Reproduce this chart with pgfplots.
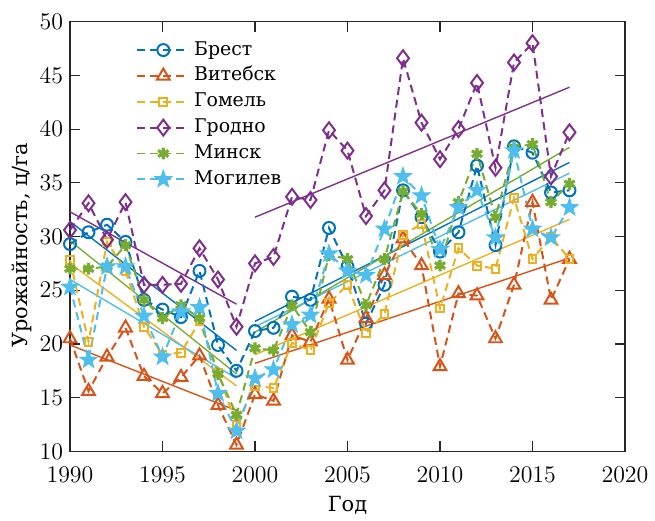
\documentclass[border=0pt]{standalone}
\usepackage{fontspec}
\setmainfont{DejaVu Serif}
\usepackage{pgfplots}
\pgfplotsset{compat=1.18}
\usetikzlibrary{plotmarks}
\definecolor{cB}{rgb}{0,0.447,0.741}
\definecolor{cV}{rgb}{0.850,0.325,0.098}
\definecolor{cG}{rgb}{0.929,0.694,0.125}
\definecolor{cGr}{rgb}{0.494,0.184,0.556}
\definecolor{cM}{rgb}{0.466,0.674,0.188}
\definecolor{cMo}{rgb}{0.301,0.745,0.933}
\pgfdeclareplotmark{pstar}{%
  \pgfpathmoveto{\pgfpointpolar{90}{\pgfplotmarksize}}%
  \pgfpathlineto{\pgfpointpolar{126}{0.4\pgfplotmarksize}}%
  \pgfpathlineto{\pgfpointpolar{162}{\pgfplotmarksize}}%
  \pgfpathlineto{\pgfpointpolar{198}{0.4\pgfplotmarksize}}%
  \pgfpathlineto{\pgfpointpolar{234}{\pgfplotmarksize}}%
  \pgfpathlineto{\pgfpointpolar{270}{0.4\pgfplotmarksize}}%
  \pgfpathlineto{\pgfpointpolar{306}{\pgfplotmarksize}}%
  \pgfpathlineto{\pgfpointpolar{342}{0.4\pgfplotmarksize}}%
  \pgfpathlineto{\pgfpointpolar{18}{\pgfplotmarksize}}%
  \pgfpathlineto{\pgfpointpolar{54}{0.4\pgfplotmarksize}}%
  \pgfpathclose
  \pgfusepathqfillstroke}
\begin{document}
\begin{tikzpicture}
\begin{axis}[name=ax, scale only axis, width=279pt, height=216pt,
  xmin=1990, xmax=2020, ymin=10, ymax=50,
  xtick={1990,1995,...,2020}, ytick={10,15,...,50},
  /pgf/number format/1000 sep={},
  tick label style={font=\fontsize{12}{14}\selectfont, color=black},
  xticklabel style={anchor=center, yshift=-11.7pt},
  axis line style={color=black!85, line width=0.6pt},
  major tick length=5pt, tick style={color=black!85, line width=0.6pt},
  xlabel={Год}, ylabel={Урожайность, ц/га},
  xlabel style={font=\fontsize{10.5}{12}\selectfont, at={(axis description cs:0.5,0)}, anchor=base, yshift=-30.2pt},
  ylabel style={font=\fontsize{10.5}{12}\selectfont, at={(axis description cs:-0.087,0.48)}, anchor=center},
  clip=false,
  legend style={at={(0.119,0.965)}, anchor=north west, draw=none, fill=none,
    font=\fontsize{9.5}{11}\selectfont, row sep=0pt, inner sep=0pt,
    nodes={inner ysep=1.5pt, text height=7.5pt, text depth=2.5pt}},
  legend cell align=left,
  legend image code/.code={\draw[mark repeat=2,mark phase=2] plot coordinates {(0pt,0pt) (13pt,0pt) (26pt,0pt)};},
  dl/.style={line width=1pt, dash pattern=on 4pt off 2.5pt, mark options={solid}},
  tl/.style={line width=0.7pt, forget plot}
]
% trend lines
\addplot[tl, cB] coordinates {(1990,31.4) (1999,19.4)};
\addplot[tl, cB] coordinates {(2000,22.1) (2017,36.9)};
\addplot[tl, cV] coordinates {(1990,19.9) (1999,13.8)};
\addplot[tl, cV] coordinates {(2000,18.2) (2017,28.0)};
\addplot[tl, cG] coordinates {(1990,27.5) (1999,16.1)};
\addplot[tl, cG] coordinates {(2000,19.0) (2017,31.6)};
\addplot[tl, cGr] coordinates {(1990,32.3) (1999,23.7)};
\addplot[tl, cGr] coordinates {(2000,31.8) (2017,43.9)};
\addplot[tl, cM] coordinates {(1990,29.6) (1999,17.2)};
\addplot[tl, cM] coordinates {(2000,21.1) (2017,38.3)};
\addplot[tl, cMo] coordinates {(1990,26.0) (1999,16.8)};
\addplot[tl, cMo] coordinates {(2000,21.6) (2017,35.9)};
% data
\addplot[dl, cB, mark=o, mark size=3pt] coordinates {
(1990,29.3) (1991,30.4) (1992,31.1) (1993,29.5) (1994,24.1) (1995,23.2) (1996,22.5) (1997,26.8) (1998,19.9) (1999,17.5)
(2000,21.2) (2001,21.5) (2002,24.4) (2003,24.1) (2004,30.8) (2005,27.2) (2006,21.9) (2007,25.5) (2008,34.3) (2009,31.8)
(2010,28.6) (2011,30.4) (2012,36.6) (2013,29.2) (2014,38.4) (2015,37.8) (2016,34.1) (2017,34.3)};
\addlegendentry{Брест}
\addplot[dl, cV, mark=triangle, mark size=3.7pt] coordinates {
(1990,20.5) (1991,15.6) (1992,18.8) (1993,21.5) (1994,17.0) (1995,15.4) (1996,16.9) (1997,18.9) (1998,14.3) (1999,10.6)
(2000,15.3) (2001,14.7) (2002,20.8) (2003,20.2) (2004,24.2) (2005,18.5) (2006,22.4) (2007,26.4) (2008,29.8) (2009,27.3)
(2010,17.9) (2011,24.7) (2012,24.5) (2013,20.5) (2014,25.5) (2015,33.2) (2016,24.1) (2017,27.9)};
\addlegendentry{Витебск}
\addplot[dl, cG, mark=square, mark size=2pt] coordinates {
(1990,27.8) (1991,20.2) (1992,29.5) (1993,26.8) (1994,21.6) (1995,19.0) (1996,19.2) (1997,22.1) (1998,17.3) (1999,12.5)
(2000,16.1) (2001,15.9) (2002,20.1) (2003,19.4) (2004,23.8) (2005,25.5) (2006,21.0) (2007,22.8) (2008,30.1) (2009,31.2)
(2010,23.3) (2011,28.9) (2012,27.3) (2013,27.0) (2014,33.6) (2015,27.9) (2016,30.0) (2017,27.9)};
\addlegendentry{Гомель}
\addplot[dl, cGr, mark=diamond, mark size=4pt] coordinates {
(1990,30.6) (1991,33.1) (1992,29.7) (1993,33.2) (1994,25.5) (1995,25.5) (1996,25.6) (1997,28.9) (1998,26.0) (1999,21.6)
(2000,27.5) (2001,28.1) (2002,33.7) (2003,33.4) (2004,39.9) (2005,38.0) (2006,31.9) (2007,34.3) (2008,46.6) (2009,40.6)
(2010,37.2) (2011,40.0) (2012,44.3) (2013,36.4) (2014,46.2) (2015,48.0) (2016,35.6) (2017,39.7)};
\addlegendentry{Гродно}
\addplot[dl, cM, mark=asterisk, mark size=3pt, mark options={solid, line width=1.6pt}] coordinates {
(1990,27.0) (1991,27.0) (1992,27.2) (1993,29.2) (1994,24.1) (1995,22.4) (1996,23.6) (1997,22.4) (1998,17.2) (1999,13.4)
(2000,19.6) (2001,19.4) (2002,23.6) (2003,21.1) (2004,28.3) (2005,27.9) (2006,23.6) (2007,27.9) (2008,34.2) (2009,32.1)
(2010,27.3) (2011,33.2) (2012,37.7) (2013,31.8) (2014,38.3) (2015,38.6) (2016,33.2) (2017,34.9)};
\addlegendentry{Минск}
\addplot[dl, cMo, mark=pstar, mark size=4.5pt, mark options={solid, fill=cMo, line width=0.5pt}] coordinates {
(1990,25.3) (1991,18.5) (1992,27.2) (1993,27.2) (1994,22.6) (1995,18.8) (1996,23.0) (1997,23.4) (1998,15.4) (1999,11.9)
(2000,16.8) (2001,17.6) (2002,21.8) (2003,22.7) (2004,28.4) (2005,26.8) (2006,26.4) (2007,30.7) (2008,35.6) (2009,33.8)
(2010,28.8) (2011,32.7) (2012,34.3) (2013,29.9) (2014,38.0) (2015,30.7) (2016,29.9) (2017,32.7)};
\addlegendentry{Могилев}
\end{axis}
\path (ax.south west) ++(-35.2pt,-31.1pt) rectangle ++(327.5pt,258pt);
\end{tikzpicture}
\end{document}
